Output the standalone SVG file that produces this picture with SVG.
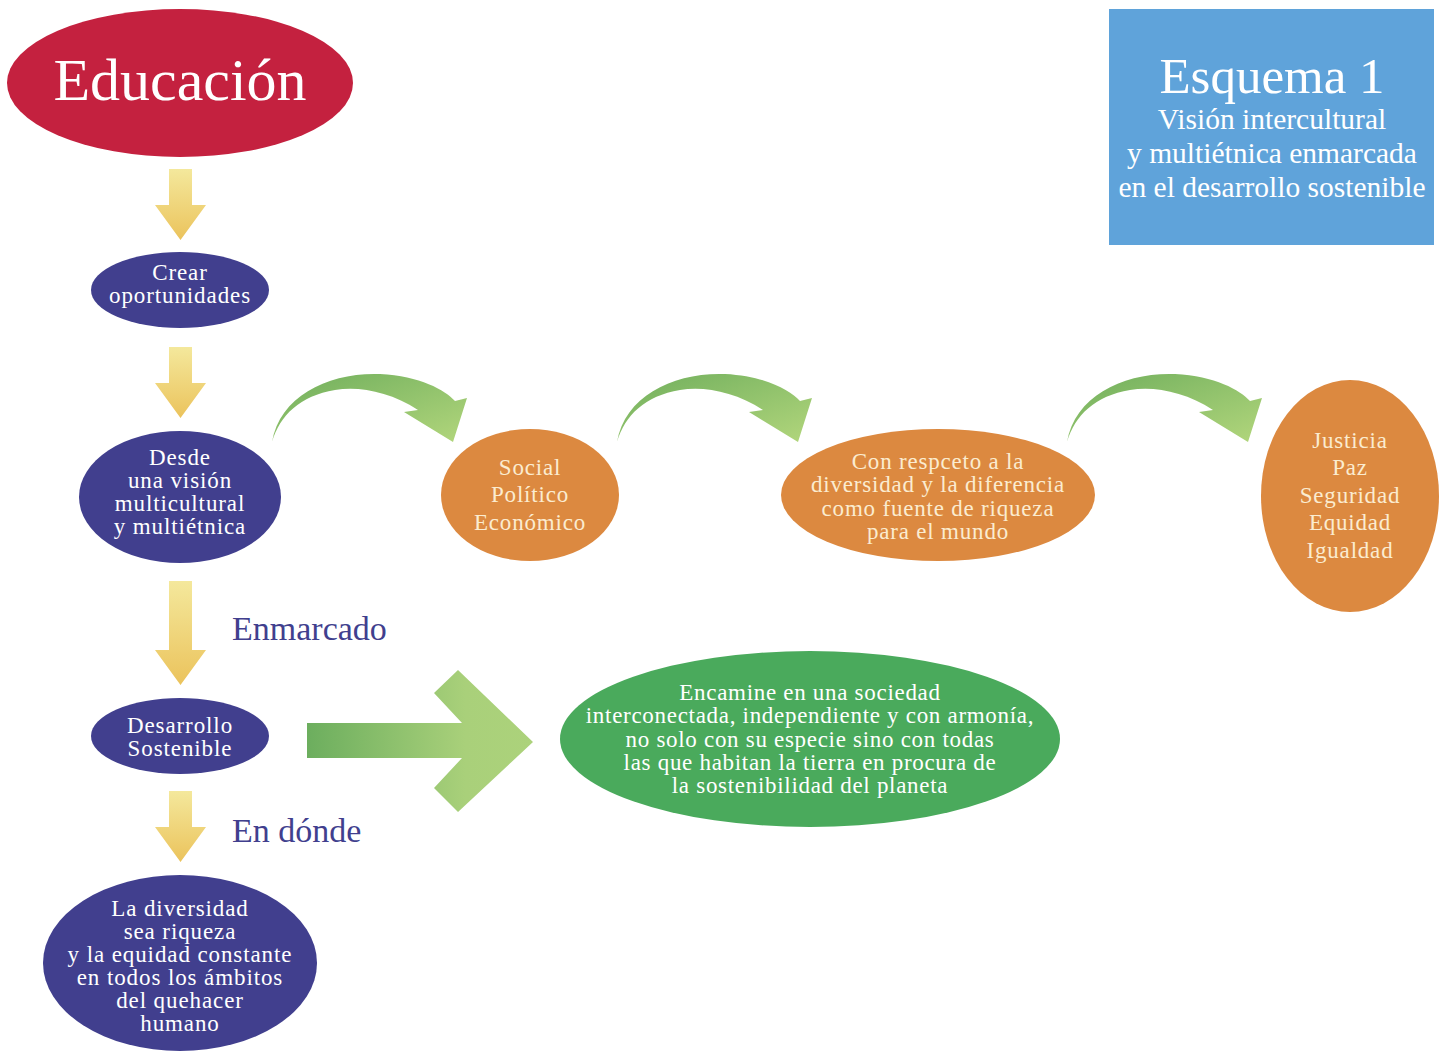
<svg xmlns="http://www.w3.org/2000/svg" width="1443" height="1051" viewBox="0 0 1443 1051">
<defs>
<linearGradient id="gy" x1="0" y1="0" x2="0" y2="1"><stop offset="0" stop-color="#f4e89c"/><stop offset="1" stop-color="#ebc35c"/></linearGradient>
<linearGradient id="gc" x1="0" y1="0" x2="1" y2="1"><stop offset="0" stop-color="#6fae5c"/><stop offset="1" stop-color="#b2d67c"/></linearGradient>
<linearGradient id="gb" x1="307" y1="0" x2="533" y2="0" gradientUnits="userSpaceOnUse"><stop offset="0" stop-color="#6cae5e"/><stop offset="0.7" stop-color="#a9d07a"/><stop offset="1" stop-color="#acd27b"/></linearGradient>
<path id="ya" d="M169,0 H192 V36 H206 L180.5,71 L155,36 H169 Z"/>
<path id="ca" d="M272,442 C280,395 330,372 380,374 C420,376 445,390 455,401 L467,398 L453,442 L404,412 L418,410 C390,392 360,386 335,390 C300,396 280,415 272,442 Z"/>
</defs>
<style>
.p{fill:#413f8e}
.o{fill:#dc8940}
.t{font-family:"Liberation Serif","DejaVu Serif",serif;text-anchor:middle}
.w{fill:#ffffff;font-size:23px;letter-spacing:0.9px}
.c{fill:#fbecd0;font-size:23px;letter-spacing:0.8px}
.s{fill:#ffffff;font-size:29.5px}
.lb{font-family:"Liberation Serif","DejaVu Serif",serif;fill:#413f8e;font-size:34px}
</style>
<rect width="1443" height="1051" fill="#ffffff"/>
<g id="connectors">
<use href="#ya" transform="translate(0,169)" fill="url(#gy)"/>
<use href="#ya" transform="translate(0,347)" fill="url(#gy)"/>
<path d="M169,581 H192 V650 H206 L180.5,685 L155,650 H169 Z" fill="url(#gy)"/>
<use href="#ya" transform="translate(0,791)" fill="url(#gy)"/>
<use href="#ca" fill="url(#gc)"/>
<use href="#ca" transform="translate(345,0)" fill="url(#gc)"/>
<use href="#ca" transform="translate(795,0)" fill="url(#gc)"/>
<polygon points="307,723 462,723 434,693 458,670 533,742 458,812 434,788 462,758 307,758" fill="url(#gb)"/>
<text class="lb" x="232" y="640">Enmarcado</text>
<text class="lb" x="232" y="842">En dónde</text>
</g>
<g id="educacion">
<ellipse cx="180" cy="83" rx="173" ry="74" fill="#c4213f"/>
<text class="t" x="180" y="100" fill="#ffffff" font-size="60">Educación</text>
</g>
<g id="esquema">
<rect x="1109" y="9" width="325" height="236" fill="#5fa3da"/>
<text class="t" x="1272" y="93" fill="#ffffff" font-size="51">Esquema 1</text>
<text class="t s" x="1272" y="129">Visión intercultural</text>
<text class="t s" x="1272" y="163">y multiétnica enmarcada</text>
<text class="t s" x="1272" y="197">en el desarrollo sostenible</text>
</g>
<g id="crear">
<ellipse class="p" cx="180" cy="290" rx="89" ry="38"/>
<text class="t w" x="180" y="280">Crear</text>
<text class="t w" x="180" y="303">oportunidades</text>
</g>
<g id="desde">
<ellipse class="p" cx="180" cy="497" rx="101" ry="66"/>
<text class="t w" x="180" y="465">Desde</text>
<text class="t w" x="180" y="488">una visión</text>
<text class="t w" x="180" y="511">multicultural</text>
<text class="t w" x="180" y="534">y multiétnica</text>
</g>
<g id="desarrollo">
<ellipse class="p" cx="180" cy="736" rx="89" ry="38"/>
<text class="t w" x="180" y="733">Desarrollo</text>
<text class="t w" x="180" y="756">Sostenible</text>
</g>
<g id="diversidad">
<ellipse class="p" cx="180" cy="963" rx="137" ry="88"/>
<text class="t w" x="180" y="916">La diversidad</text>
<text class="t w" x="180" y="939">sea riqueza</text>
<text class="t w" x="180" y="962">y la equidad constante</text>
<text class="t w" x="180" y="985">en todos los ámbitos</text>
<text class="t w" x="180" y="1008">del quehacer</text>
<text class="t w" x="180" y="1031">humano</text>
</g>
<g id="social">
<ellipse class="o" cx="530" cy="495" rx="89" ry="66"/>
<text class="t c" x="530" y="475">Social</text>
<text class="t c" x="530" y="502">Político</text>
<text class="t c" x="530" y="530">Económico</text>
</g>
<g id="respeto">
<ellipse class="o" cx="938" cy="495" rx="157" ry="66"/>
<text class="t c" x="938" y="469">Con respceto a la</text>
<text class="t c" x="938" y="492">diversidad y la diferencia</text>
<text class="t c" x="938" y="516">como fuente de riqueza</text>
<text class="t c" x="938" y="539">para el mundo</text>
</g>
<g id="justicia">
<ellipse class="o" cx="1350" cy="496" rx="89" ry="116"/>
<text class="t c" x="1350" y="448">Justicia</text>
<text class="t c" x="1350" y="475">Paz</text>
<text class="t c" x="1350" y="503">Seguridad</text>
<text class="t c" x="1350" y="530">Equidad</text>
<text class="t c" x="1350" y="558">Igualdad</text>
</g>
<g id="encamine">
<ellipse cx="810" cy="739" rx="250" ry="88" fill="#4aaa5c"/>
<text class="t w" x="810" y="700" style="letter-spacing:0.7px">Encamine en una sociedad</text>
<text class="t w" x="810" y="723" style="letter-spacing:0.7px">interconectada, independiente y con armonía,</text>
<text class="t w" x="810" y="747" style="letter-spacing:0.7px">no solo con su especie sino con todas</text>
<text class="t w" x="810" y="770" style="letter-spacing:0.7px">las que habitan la tierra en procura de</text>
<text class="t w" x="810" y="793" style="letter-spacing:0.7px">la sostenibilidad del planeta</text>
</g>
</svg>
